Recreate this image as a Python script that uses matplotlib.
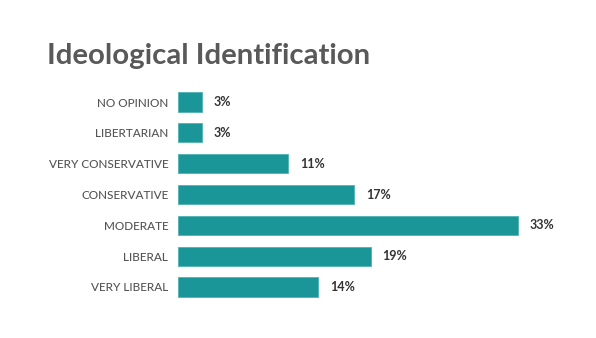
import matplotlib
matplotlib.use("Agg")
import matplotlib.pyplot as plt

categories = ["NO OPINION", "LIBERTARIAN", "VERY CONSERVATIVE", "CONSERVATIVE",
              "MODERATE", "LIBERAL", "VERY LIBERAL"]
bar_values = [2.3, 2.3, 10.7, 17.1, 33.0, 18.7, 13.6]
value_labels = ["3%", "3%", "11%", "17%", "33%", "19%", "14%"]
title = "Ideological Identification"

plt.rcParams['font.family'] = ['Lato', 'DejaVu Sans']

fig = plt.figure(figsize=(5.96, 3.38), dpi=100)
ax = fig.add_axes([178/596, 1-302.4/338, 412/596, (302.4-86.6)/338])

y = list(range(len(categories)))
ax.barh(y, bar_values, height=0.62, color="#1a9699", edgecolor="#4fb3b5", linewidth=0.6)
ax.set_xlim(0, 40)
ax.set_ylim(len(categories) - 0.5, -0.5)
ax.set_yticks(y)
ax.set_yticklabels(categories, fontsize=8.5, color="#555555", fontweight='medium')
ax.tick_params(axis='y', length=0, pad=7)
ax.set_xticks([])
for s in ax.spines.values():
    s.set_visible(False)

for yi, v, lab in zip(y, bar_values, value_labels):
    ax.text(v + 1.15, yi, lab, va='center', ha='left', fontsize=9,
            fontweight='bold', color="#333333")

fig.text(47/596, 1-64/338, title, fontsize=21.2, fontweight='bold',
         color="#595959", ha='left', va='baseline')

fig.savefig("out.png", dpi=100)
